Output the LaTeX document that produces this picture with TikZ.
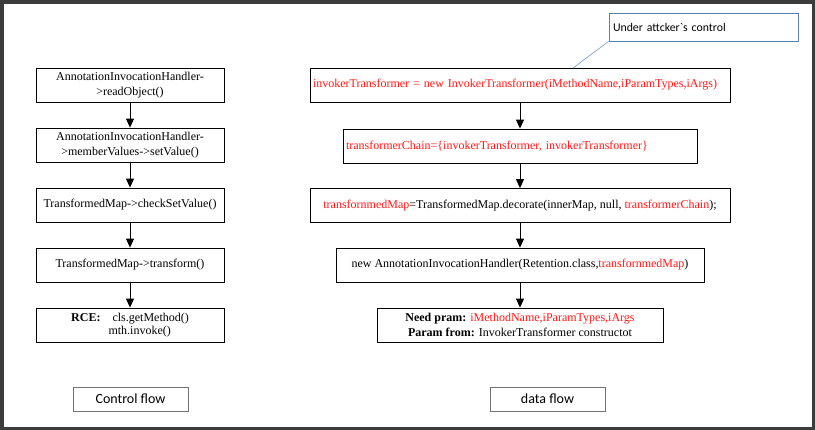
\documentclass[tikz,border=0pt]{standalone}
\usepackage{fontspec}
\setmainfont{Liberation Serif}
\newfontfamily\calfont{Carlito}
\usetikzlibrary{arrows.meta,shadows}
\definecolor{frame}{HTML}{3C3C3C}
\definecolor{codered}{HTML}{FF1A1A}
\definecolor{callblue}{HTML}{5B7FAE}
\definecolor{leadblue}{HTML}{86A6CC}
\newcommand{\rd}[1]{\textcolor{codered}{#1}}
\tikzset{
  flowbox/.style={draw=black, line width=0.8pt, fill=white, inner sep=3pt,
    minimum height=34pt, font=\fontsize{12}{14.5}\selectfont, align=center,
    drop shadow={opacity=0.12, shadow xshift=1pt, shadow yshift=-1pt}},
  labelbox/.style={draw=black!55, line width=0.8pt, fill=white, minimum width=115pt,
    minimum height=24pt, font=\calfont\fontsize{14}{16}\selectfont},
  flowarrow/.style={draw=black, line width=0.9pt, -{Triangle[length=9pt,width=8pt]}},
}
\begin{document}
\begin{tikzpicture}[x=1pt,y=-1pt]
\fill[frame] (0,0) rectangle (815,430);
\fill[white] (4,4) rectangle (812,427);
\useasboundingbox (0,0) rectangle (815,430);

% control flow column
\node[flowbox, minimum width=188pt] (b1) at (130,85) {AnnotationInvocationHandler-\\>readObject()};
\node[flowbox, minimum width=188pt] (b2) at (130,145) {AnnotationInvocationHandler-\\>memberValues->setValue()};
\node[flowbox, minimum width=188pt] (b3) at (130,205) {TransformedMap->checkSetValue()};
\node[flowbox, minimum width=188pt] (b4) at (130,265) {TransformedMap->transform()};
\node[flowbox, minimum width=188pt] (b5) at (130,325) {\begin{tabular}{@{}l@{\hspace{12pt}}l@{}}\textbf{RCE:} & cls.getMethod()\\[-2pt] & \hspace{-4pt}mth.invoke()\end{tabular}};

\draw[flowarrow] (b1) -- (b2);
\draw[flowarrow] (b2) -- (b3);
\draw[flowarrow] (b3) -- (b4);
\draw[flowarrow] (b4) -- (b5);

% data flow column
\node[flowbox, minimum width=420pt, text width=414pt, align=left] (r1) at (520,85) {\rd{invokerTransformer = new InvokerTransformer(iMethodName,iParamTypes,iArgs)}};
\node[flowbox, minimum width=354pt, text width=348pt, align=left] (r2) at (520,146) {\rd{transformerChain=\{invokerTransformer, invokerTransformer\}}};
\node[flowbox, minimum width=420pt] (r3) at (520,205.5) {\rd{transfornmedMap}=TransformedMap.decorate(innerMap, null, \rd{transformerChain});};
\node[flowbox, minimum width=368pt] (r4) at (520,265) {new AnnotationInvocationHandler(Retention.class,\rd{transfornmedMap})};
\node[flowbox, minimum width=286pt] (r5) at (520,325) {\textbf{Need pram:} \rd{iMethodName,iParamTypes,iArgs}\\\textbf{Param from:} InvokerTransformer constructot};

\draw[flowarrow] (r1) -- (r2);
\draw[flowarrow] (r2) -- (r3);
\draw[flowarrow] (r3) -- (r4);
\draw[flowarrow] (r4) -- (r5);

% callout
\node[draw=callblue, line width=0.8pt, fill=white, minimum width=189pt, minimum height=28pt,
  text width=181pt, align=left, inner sep=4pt, font=\calfont\fontsize{11.8}{13}\selectfont,
  drop shadow={opacity=0.1, shadow xshift=0.8pt, shadow yshift=-0.8pt}] (call) at (703.5,27) {Under attcker`s control};
\coordinate (calltip) at (573,68);
\draw[leadblue, line width=0.7pt] (call.south west) -- (calltip);

% legend labels
\node[labelbox] (lcf) at (130.5,399) {Control flow};
\node[labelbox] (ldf) at (547.5,399) {data flow};
\end{tikzpicture}
\end{document}
